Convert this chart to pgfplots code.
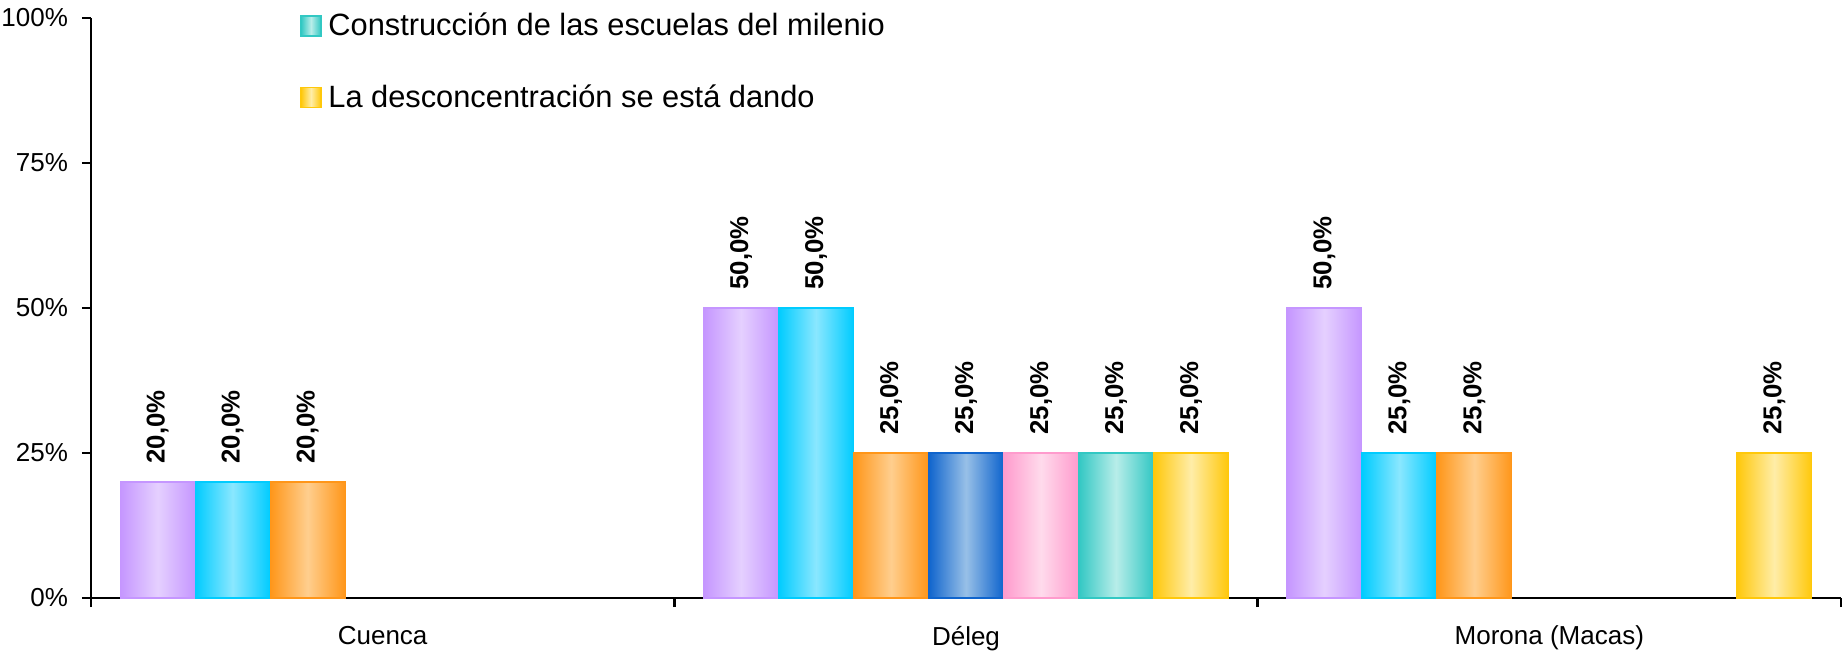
\documentclass[border=0pt]{standalone}
\usepackage{fontspec}
\setmainfont{Liberation Sans}
\usepackage{pgfplots}
\pgfplotsset{compat=1.18}

\definecolor{lilaD}{RGB}{197,150,255}
\definecolor{lilaL}{RGB}{229,208,255}
\definecolor{cianD}{RGB}{0,204,255}
\definecolor{cianL}{RGB}{138,231,255}
\definecolor{naraD}{RGB}{255,150,25}
\definecolor{naraL}{RGB}{255,206,142}
\definecolor{azulD}{RGB}{15,100,205}
\definecolor{azulL}{RGB}{152,192,231}
\definecolor{rosaD}{RGB}{255,155,205}
\definecolor{rosaL}{RGB}{255,219,236}
\definecolor{turqD}{RGB}{50,200,195}
\definecolor{turqL}{RGB}{184,237,233}
\definecolor{amarD}{RGB}{255,200,10}
\definecolor{amarL}{RGB}{255,237,168}

% one \addplot per bar, so that each bar gets its own gradient
\pgfplotsset{
  barra/.style 2 args={draw=#1, line width=0.6pt,
    left color=#1, right color=#1, middle color=#2},
  s1/.style={barra={lilaD}{lilaL}, bar shift=-0.38571},
  s2/.style={barra={cianD}{cianL}, bar shift=-0.25714},
  s3/.style={barra={naraD}{naraL}, bar shift=-0.12857},
  s4/.style={barra={azulD}{azulL}, bar shift=0},
  s5/.style={barra={rosaD}{rosaL}, bar shift=0.12857},
  s6/.style={barra={turqD}{turqL}, bar shift=0.25714},
  s7/.style={barra={amarD}{amarL}, bar shift=0.38571},
}

\begin{document}
\begin{tikzpicture}
\begin{axis}[
  name=ax,
  scale only axis,
  width=875pt, height=290pt,
  xmin=-0.5, xmax=2.5,
  ymin=0, ymax=100,
  xtick={-0.5,0.5,1.5,2.5},
  x tick label as interval,
  xticklabels={Cuenca,Déleg,Morona (Macas)},
  ytick={0,25,50,75,100},
  yticklabel={\pgfmathprintnumber{\tick}\%},
  /pgf/number format/assume math mode=true,
  axis lines*=left,
  axis line style={-, line width=1.2pt},
  tick align=outside,
  major tick length=4.5pt,
  tick style={line width=1.2pt, black},
  ticklabel style={font=\fontsize{13}{15}\selectfont},
  xticklabel style={yshift=-6pt},
  yticklabel style={xshift=-3.5pt},
  ybar, bar width=0.12857,
  nodes near coords={\pgfmathprintnumber[fixed,fixed zerofill,precision=1,use comma]{\pgfplotspointmeta}\%},
  every node near coord/.append style={font=\fontsize{12.9}{14}\selectfont\bfseries,
    text=black, rotate=90, anchor=west, inner xsep=9pt, inner ysep=0pt},
  legend style={draw=none, fill=none, at={(axis description cs:0.116,1.016)},
    anchor=north west, font=\fontsize{15.4}{17}\selectfont, row sep=23pt,
    nodes={inner ysep=0pt, inner xsep=3.4pt}},
  legend cell align=left,
  legend image code/.code={\draw[#1] (0pt,-5pt) rectangle (10pt,5pt);},
]
% Cuenca
\addplot[s1, forget plot] coordinates {(0,20)};
\addplot[s2, forget plot] coordinates {(0,20)};
\addplot[s3, forget plot] coordinates {(0,20)};
% Morona (Macas)
\addplot[s1, forget plot] coordinates {(2,50)};
\addplot[s2, forget plot] coordinates {(2,25)};
\addplot[s3, forget plot] coordinates {(2,25)};
\addplot[s7, forget plot] coordinates {(2,25)};
% Deleg
\addplot[s1, forget plot] coordinates {(1,50)};
\addplot[s2, forget plot] coordinates {(1,50)};
\addplot[s3, forget plot] coordinates {(1,25)};
\addplot[s4, forget plot] coordinates {(1,25)};
\addplot[s5, forget plot] coordinates {(1,25)};
\addplot[s6] coordinates {(1,25)};
\addlegendentry{Construcción de las escuelas del milenio}
\addplot[s7] coordinates {(1,25)};
\addlegendentry{La desconcentración se está dando}
\end{axis}
\pgfresetboundingbox
\path ([shift={(-45.5pt,-28.5pt)}]ax.south west) rectangle ([shift={(3pt,9pt)}]ax.north east);
\end{tikzpicture}
\end{document}
